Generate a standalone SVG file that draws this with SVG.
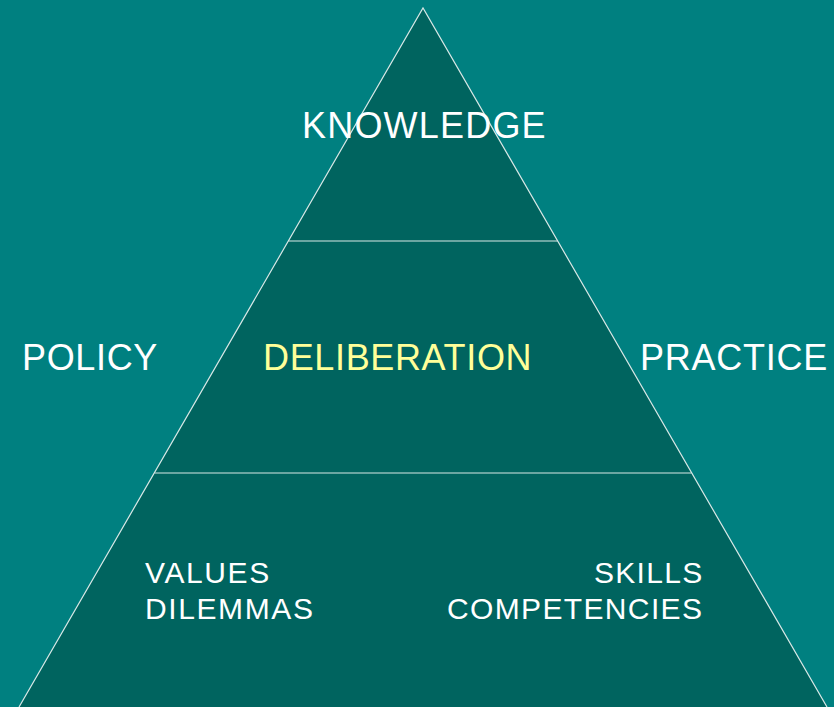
<svg xmlns="http://www.w3.org/2000/svg" width="834" height="707" viewBox="0 0 834 707">
<style>
.t{font-family:"Liberation Sans",Arial,sans-serif;fill:#ffffff}
.big{font-size:36px;letter-spacing:0.65px}
.sm{font-size:30px;letter-spacing:1.6px}
.ln{stroke:#d8e8e6;stroke-width:1.2;fill:none}
</style>
<rect width="834" height="707" fill="#008080"/>
<g id="pyramid">
<polygon points="423,8 19,707 827,707" fill="#00645F"/>
</g>
<g id="connectors">
<polyline class="ln" points="19,707 423,8 827,707"/>
<line class="ln" x1="288.5" y1="241" x2="557.5" y2="241"/>
<line class="ln" x1="154.5" y1="473" x2="691.5" y2="473"/>
</g>
<g id="knowledge"><text class="t big" x="302" y="138" style="letter-spacing:1.2px">KNOWLEDGE</text></g>
<g id="policy"><text class="t big" x="22" y="370">POLICY</text></g>
<g id="deliberation"><text class="t big" x="263" y="370" style="fill:#FFFF99">DELIBERATION</text></g>
<g id="practice"><text class="t big" x="640" y="370" style="letter-spacing:0.75px">PRACTICE</text></g>
<g id="values"><text class="t sm" x="145" y="583">VALUES</text><text class="t sm" x="145" y="619">DILEMMAS</text></g>
<g id="skills"><text class="t sm" x="703.5" y="583" text-anchor="end" style="letter-spacing:1.3px">SKILLS</text><text class="t sm" x="703.3" y="619" text-anchor="end" style="letter-spacing:1.35px">COMPETENCIES</text></g>
</svg>
